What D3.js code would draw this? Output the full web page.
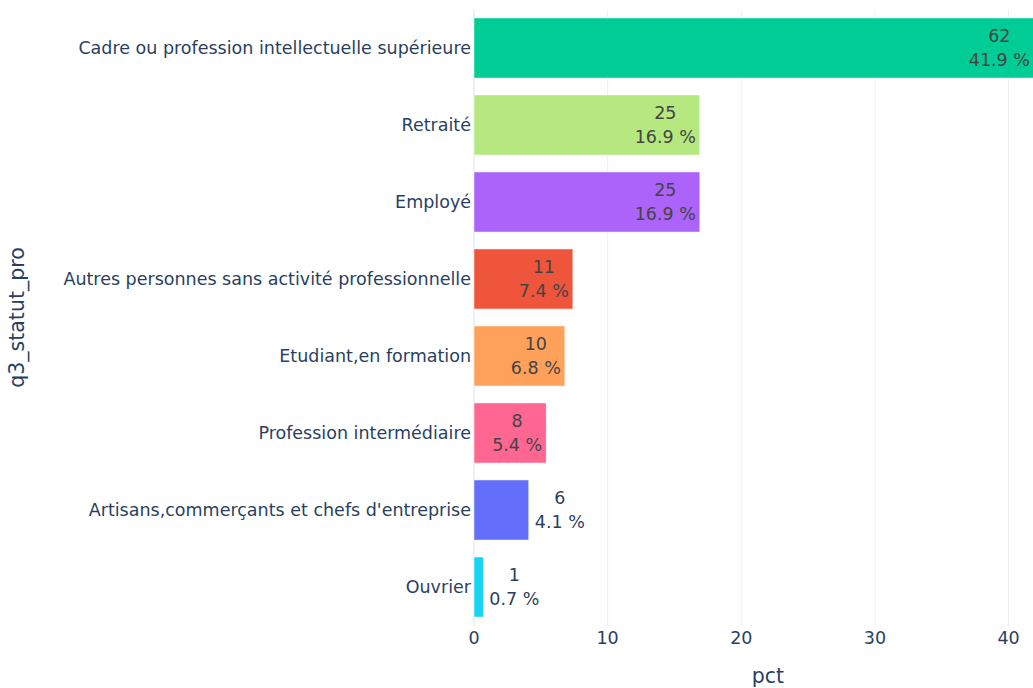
<!DOCTYPE html>
<html>
<head>
<meta charset="utf-8">
<script src="https://cdn.jsdelivr.net/npm/d3@7"></script>
<style>
  body { margin: 0; background: #fff; }
  svg { display: block; }
  text { font-family: "DejaVu Sans", Verdana, sans-serif; }
</style>
</head>
<body>
<svg id="chart" width="1033" height="688"></svg>
<script>
// data
var categories = ["Cadre ou profession intellectuelle supérieure", "Retraité", "Employé",
  "Autres personnes sans activité professionnelle", "Etudiant,en formation",
  "Profession intermédiaire", "Artisans,commerçants et chefs d'entreprise", "Ouvrier"];
var counts = [62, 25, 25, 11, 10, 8, 6, 1];
var pcts = [41.9, 16.9, 16.9, 7.4, 6.8, 5.4, 4.1, 0.7];
var barColors = ["#00CC96", "#B6E880", "#AB63FA", "#EF553B", "#FFA15A", "#FF6692", "#636EFA", "#19D3F3"];
var xTicks = [0, 10, 20, 30, 40];

var svg = d3.select("#chart"),
    plotLeft = 474, plotRight = 1062,
    plotTop = 9.5, plotBottom = 625.5,
    fontSize = 17.5;

var x = d3.scaleLinear().domain([0, 44]).range([plotLeft, plotRight]);
var y = d3.scaleBand().domain(categories).range([plotTop, plotBottom]).paddingInner(0.22).paddingOuter(0.11);

// grid
svg.append("g").selectAll("line")
  .data(xTicks.filter(function(d) { return d > 0; }))
  .enter().append("line")
    .attr("x1", function(d) { return x(d); })
    .attr("x2", function(d) { return x(d); })
    .attr("y1", plotTop).attr("y2", plotBottom)
    .attr("stroke", "#EBF0F8").attr("stroke-width", 1);

svg.append("line")
    .attr("x1", x(0)).attr("x2", x(0))
    .attr("y1", plotTop).attr("y2", plotBottom)
    .attr("stroke", "#EBF0F8").attr("stroke-width", 2);

// bars
svg.append("g").selectAll("rect")
  .data(categories)
  .enter().append("rect")
    .attr("x", x(0))
    .attr("y", function(d) { return y(d); })
    .attr("width", function(d, i) { return x(pcts[i]) - x(0); })
    .attr("height", y.bandwidth())
    .attr("fill", function(d, i) { return barColors[i]; })
    .attr("stroke", "#fff").attr("stroke-width", 0.5);

// bar labels: inside at the end if they fit, else outside
var pad = 4;
var labels = svg.append("g").selectAll("text")
  .data(categories)
  .enter().append("text")
    .attr("text-anchor", "middle")
    .style("font-size", fontSize + "px");

labels.each(function(d, i) {
  var t = d3.select(this);
  var cy = y(d) + y.bandwidth() / 2;
  t.append("tspan").attr("x", 0).attr("y", cy - 12).attr("dy", "0.35em").text(counts[i]);
  t.append("tspan").attr("x", 0).attr("y", cy + 12).attr("dy", "0.35em").text(pcts[i].toFixed(1) + " %");
  var w = this.getBBox().width;
  var barW = x(pcts[i]) - x(0);
  var cx, col;
  if (w + 2 * pad <= barW) {
    cx = x(pcts[i]) - pad - w / 2;
    col = "#444";
  } else {
    cx = x(pcts[i]) + pad + 2 + w / 2;
    col = "#2a3f5f";
  }
  t.selectAll("tspan").attr("x", cx);
  t.attr("fill", col);
});

// y tick labels
svg.append("g").selectAll("text")
  .data(categories)
  .enter().append("text")
    .attr("x", plotLeft - 3)
    .attr("y", function(d) { return y(d) + y.bandwidth() / 2; })
    .attr("dy", "0.35em")
    .attr("text-anchor", "end")
    .attr("fill", "#2a3f5f")
    .style("font-size", fontSize + "px")
    .text(function(d) { return d; });

// x tick labels
svg.append("g").selectAll("text")
  .data(xTicks)
  .enter().append("text")
    .attr("x", function(d) { return x(d); })
    .attr("y", 638)
    .attr("dy", "0.35em")
    .attr("text-anchor", "middle")
    .attr("fill", "#2a3f5f")
    .style("font-size", fontSize + "px")
    .text(function(d) { return d; });

// axis titles
svg.append("text")
    .attr("x", (plotLeft + plotRight) / 2)
    .attr("y", 683)
    .attr("text-anchor", "middle")
    .attr("fill", "#2a3f5f")
    .style("font-size", "20.5px")
    .text("pct");

svg.append("text")
    .attr("transform", "translate(24," + ((plotTop + plotBottom) / 2) + ") rotate(-90)")
    .attr("text-anchor", "middle")
    .attr("fill", "#2a3f5f")
    .style("font-size", "20.5px")
    .text("q3_statut_pro");
</script>
</body>
</html>
